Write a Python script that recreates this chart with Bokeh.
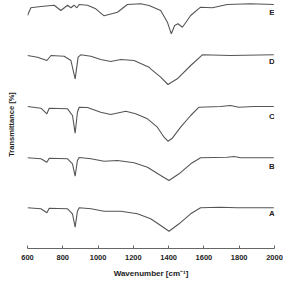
from bokeh.plotting import figure
from bokeh.models import FixedTicker, ColumnDataSource
from bokeh.core.properties import value
from bokeh.embed import file_html
from bokeh.resources import INLINE

# Wavenumbers [cm-1] and stacked transmittance (arbitrary offset units)
wn_E = [600, 619, 676, 751, 789, 827, 846, 864, 880, 893, 940, 987, 1034, 1110, 1166, 1242, 1289,
        1355, 1393, 1415, 1434, 1453, 1478, 1525, 1581, 1648, 1732, 1864, 1996]
tr_E = [233.0, 240.7, 242.0, 243.3, 238.0, 243.3, 240.7, 243.3, 240.7, 244.0, 243.3, 239.7, 232.7,
        236.3, 244.0, 244.7, 243.0, 238.0, 226.3, 214.7, 223.0, 224.7, 221.3, 233.0, 241.3, 240.7,
        244.0, 244.7, 244.0]

wn_D = [600, 657, 710, 733, 808, 846, 870, 887, 902, 959, 1015, 1072, 1129, 1204, 1289, 1298, 1355,
        1396, 1449, 1525, 1591, 1751, 1996]
tr_D = [193.0, 191.3, 188.0, 193.0, 192.3, 188.0, 169.7, 191.3, 193.7, 192.3, 189.0, 187.0, 189.0,
        188.0, 181.3, 179.7, 171.3, 164.0, 169.7, 183.0, 193.7, 193.0, 193.7]

wn_C = [600, 676, 710, 723, 827, 855, 870, 883, 893, 940, 1015, 1072, 1157, 1213, 1280, 1336, 1374,
        1396, 1421, 1468, 1525, 1572, 1694, 1751, 1798, 1883, 1996]
tr_C = [142.0, 140.3, 134.7, 140.3, 139.7, 133.0, 115.3, 136.3, 141.3, 141.0, 136.3, 134.0, 137.3,
        134.7, 129.7, 121.3, 111.3, 107.3, 110.3, 121.3, 133.0, 141.3, 142.0, 143.0, 141.3, 142.0, 142.0]

wn_B = [600, 676, 710, 723, 827, 855, 870, 883, 893, 960, 1034, 1110, 1204, 1280, 1355, 1402, 1459,
        1525, 1581, 1732, 1770, 1808, 1996]
tr_B = [90.7, 89.7, 86.3, 90.3, 89.7, 84.7, 72.3, 88.0, 91.0, 89.7, 87.3, 88.0, 85.7, 81.3, 73.0,
        68.0, 74.7, 84.7, 90.7, 91.3, 92.0, 90.7, 90.7]

wn_A = [600, 676, 710, 723, 827, 855, 870, 883, 893, 960, 1034, 1129, 1223, 1298, 1355, 1402, 1459,
        1525, 1581, 1694, 1789, 1996]
tr_A = [40.7, 39.7, 35.7, 40.3, 39.7, 34.7, 21.3, 37.3, 40.7, 39.7, 37.3, 37.3, 34.7, 29.7, 23.0,
        17.3, 24.7, 34.7, 40.7, 41.3, 40.7, 40.7]

series_names = ["E", "D", "C", "B", "A"]
label_wn = [1985, 1985, 1985, 1985, 1985]
label_tr = [235.7, 187.0, 132.0, 82.3, 34.7]
x_ticks = [600, 800, 1000, 1200, 1400, 1600, 1800, 2000]

p = figure(width=286, height=284, x_range=(600, 2000), y_range=(0, 248),
           output_backend="svg", toolbar_location=None,
           min_border_left=27, min_border_right=12, min_border_top=0, min_border_bottom=36)
p.outline_line_color = None
p.grid.visible = False
p.background_fill_color = "white"

line_color = "#555555"
for wx, ty in [(wn_E, tr_E), (wn_D, tr_D), (wn_C, tr_C), (wn_B, tr_B), (wn_A, tr_A)]:
    p.line(wx, ty, line_color=line_color, line_width=1.1)

src = ColumnDataSource(dict(x=label_wn, y=label_tr, t=series_names))
p.text(x="x", y="y", text="t", source=src, text_font=value("Liberation Sans"),
       text_font_style="bold", text_font_size="8px", text_align="center",
       text_baseline="middle", text_color="#222222")

xa = p.xaxis[0]
xa.ticker = FixedTicker(ticks=x_ticks, minor_ticks=[])
xa.axis_line_color = "#666666"
xa.major_tick_line_color = "#666666"
xa.major_tick_in = 3
xa.major_tick_out = 0
xa.minor_tick_line_color = None
xa.major_label_text_font = "Liberation Sans"
xa.major_label_text_font_style = "bold"
xa.major_label_text_font_size = "7.5px"
xa.major_label_text_color = "#222222"
xa.major_label_standoff = 6
xa.axis_label = "Wavenumber [cm\u207b\u00b9]"
xa.axis_label_text_font = "Liberation Sans"
xa.axis_label_text_font_style = "bold"
xa.axis_label_text_font_size = "8px"
xa.axis_label_text_color = "#222222"
xa.axis_label_standoff = 6

ya = p.yaxis[0]
ya.ticker = FixedTicker(ticks=[], minor_ticks=[])
ya.axis_line_color = None
ya.major_tick_line_color = None
ya.minor_tick_line_color = None
ya.major_label_text_font_size = "0px"
ya.axis_label = "Transmittance [%]"
ya.axis_label_text_font = "Liberation Sans"
ya.axis_label_text_font_style = "bold"
ya.axis_label_text_font_size = "7.5px"
ya.axis_label_text_color = "#222222"
ya.axis_label_standoff = 12

open("out.html", "w").write(file_html(p, INLINE))
